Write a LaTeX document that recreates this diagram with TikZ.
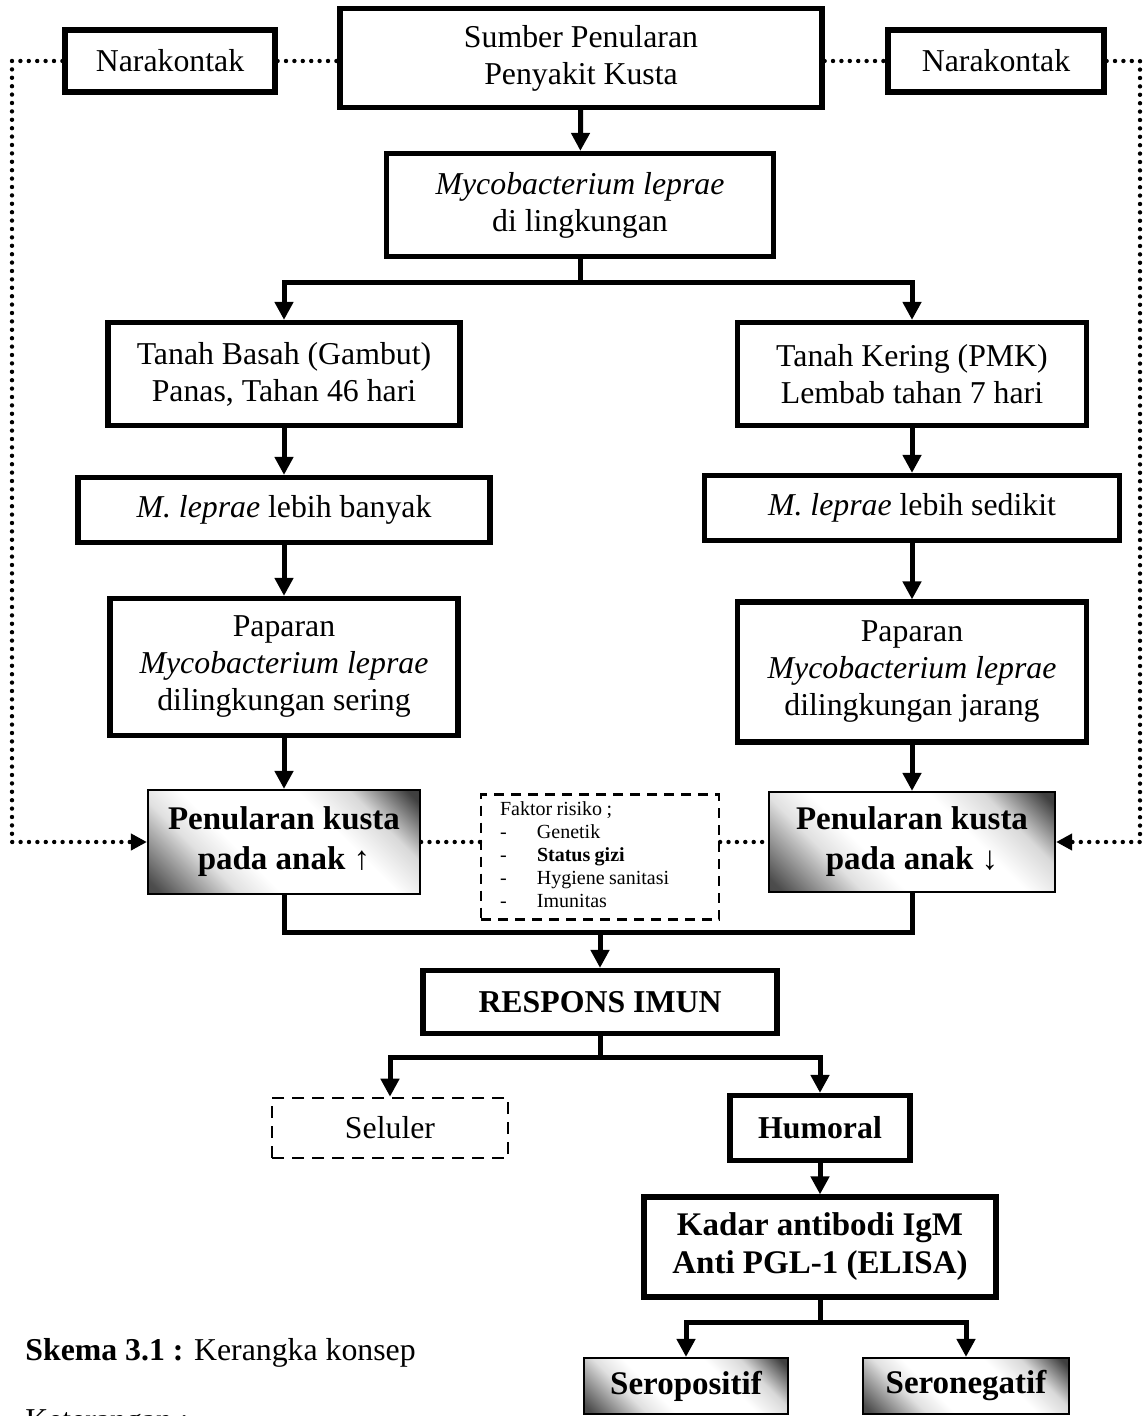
\documentclass[tikz,border=0pt]{standalone}
\usepackage{fontspec}
\setmainfont{Liberation Serif}
\usetikzlibrary{arrows.meta}
\pgfdeclareverticalshading{penshade}{100bp}{color(0bp)=(black!80); color(17bp)=(black!70); color(32bp)=(black!12); color(40bp)=(white); color(62bp)=(white); color(72bp)=(black!15); color(83bp)=(black!75); color(100bp)=(black!80)}

\begin{document}
\begin{tikzpicture}[x=0.5pt, y=-0.5pt,
    every node/.style={font=\fontsize{15.9}{18.5}\selectfont, align=center, inner sep=0pt},
    sz/.style 2 args={minimum width=#1*0.5pt, minimum height=#2*0.5pt},
    thickbox/.style={draw, line width=2.6pt},
    shadebox/.style={draw, line width=1.1pt, shading=penshade, shading angle=-45, font=\fontsize{16.5}{20}\selectfont\bfseries},
    riskbox/.style={draw, line width=1.1pt, dash pattern=on 5pt off 3.5pt, align=left},
    ln/.style={line width=2.5pt},
    arr/.style={line width=2.5pt, -{Triangle[width=9pt,length=9pt]}},
    dotln/.style={line width=2.2pt, dash pattern=on 0pt off 4.2pt, line cap=round},
    dotarr/.style={dotln, -{Triangle[width=8pt,length=8pt]}}]

    \useasboundingbox (0,0) rectangle (1147,1416);

    % Top row
    \node[thickbox, sz={210}{62}] (naraL) at (170,61) {Narakontak};
    \node[thickbox, sz={482}{99}] (sumber) at (581,58) {Sumber Penularan\\Penyakit Kusta};
    \node[thickbox, sz={216}{62}] (naraR) at (996,61) {Narakontak};

    % Environment
    \node[thickbox, sz={387}{103}] (myco) at (580,205) {\textit{Mycobacterium leprae}\\di lingkungan};
    \coordinate (split1) at (580,283);

    % Left column
    \node[thickbox, sz={352}{103}] (basah) at (284,374) {Tanah Basah (Gambut)\\Panas, Tahan 46 hari};
    \node[thickbox, sz={412}{65}] (banyak) at (284,510) {\textit{M. leprae} lebih banyak};
    \node[thickbox, sz={348}{137}] (paparanL) at (284,667) {Paparan\\\textit{Mycobacterium leprae}\\dilingkungan sering};
    \node[shadebox, sz={272}{104}] (penL) at (284,842) {Penularan kusta\\pada anak ↑};

    % Right column
    \node[thickbox, sz={349}{103}] (kering) at (912,374) {Tanah Kering (PMK)\\Lembab tahan 7 hari};
    \node[thickbox, sz={415}{65}] (sedikit) at (912,508) {\textit{M. leprae} lebih sedikit};
    \node[thickbox, sz={349}{140}] (paparanR) at (912,672) {Paparan\\\textit{Mycobacterium leprae}\\dilingkungan jarang};
    \node[shadebox, sz={286}{100}] (penR) at (912,842) {Penularan kusta\\pada anak ↓};

    % Risk factors
    \node[riskbox, sz={238}{125}, text width=100pt] (faktor) at (600,857) {\fontsize{10}{11.5}\selectfont\spaceskip=2.2pt
        \begin{tabular}{@{}p{9pt}@{\hspace{9.5pt}}l@{}}
        \multicolumn{2}{@{}l}{Faktor risiko ;}\\
        - & Genetik\\
        - & \textbf{Status gizi}\\
        - & Hygiene sanitasi\\
        - & Imunitas
        \end{tabular}};
    \coordinate (join1) at (600,932);

    % Immune response
    \node[thickbox, sz={354}{63}, font=\fontsize{15.9}{18.5}\selectfont\bfseries] (respons) at (600,1002) {RESPONS IMUN};
    \coordinate (split2) at (600,1057);
    \node[draw, line width=1.3pt, dash pattern=on 6pt off 4pt, sz={236}{60}] (seluler) at (390,1128) {Seluler};
    \node[thickbox, sz={180}{65}, font=\fontsize{15.9}{18.5}\selectfont\bfseries] (humoral) at (820,1128) {Humoral};
    \node[thickbox, sz={352}{100}, font=\fontsize{16.5}{19}\selectfont\bfseries] (kadar) at (820,1247) {Kadar antibodi IgM\\Anti PGL-1 (ELISA)};
    \coordinate (split3) at (820,1322);
    \node[shadebox, sz={204}{56}] (seroP) at (686,1386) {Seropositif};
    \node[shadebox, sz={206}{56}] (seroN) at (966,1386) {Seronegatif};

    % Caption
    \node[anchor=base west] (caption) at (25,1360) {\textbf{Skema 3.1 :} Kerangka konsep};
    \node[anchor=base west] (ket) at (25,1430) {Keterangan :};

    % Main flow
    \draw[arr] (sumber) -- (myco);
    \draw[ln] (myco) -- (split1);
    \draw[arr] (split1) -| (basah);
    \draw[arr] (split1) -| (kering);
    \draw[arr] (basah) -- (banyak);
    \draw[arr] (banyak) -- (paparanL);
    \draw[arr] (paparanL) -- (penL);
    \draw[arr] (kering) -- (sedikit);
    \draw[arr] (sedikit) -- (paparanR);
    \draw[arr] (paparanR) -- (penR);
    \draw[ln] (penL) |- (join1) -| (penR);
    \draw[arr] (join1) -- (respons);
    \draw[ln] (respons) -- (split2);
    \draw[arr] (split2) -| (seluler);
    \draw[arr] (split2) -| (humoral);
    \draw[arr] (humoral) -- (kadar);
    \draw[ln] (kadar) -- (split3);
    \draw[arr] (split3) -| (seroP);
    \draw[arr] (split3) -| (seroN);

    % Dotted links
    \coordinate (cornL) at (12,61);
    \coordinate (cornR) at (1140,61);
    \draw[dotln] (naraL) -- (naraL -| sumber.west);
    \draw[dotln] (sumber.east |- naraR) -- (naraR);
    \draw[dotarr] (naraL) -- (cornL) |- (penL);
    \draw[dotarr] (naraR) -- (cornR) |- (penR);
    \draw[dotln] (penL) -- (penL -| faktor.west);
    \draw[dotln] (faktor.east |- penR) -- (penR);
\end{tikzpicture}
\end{document}
